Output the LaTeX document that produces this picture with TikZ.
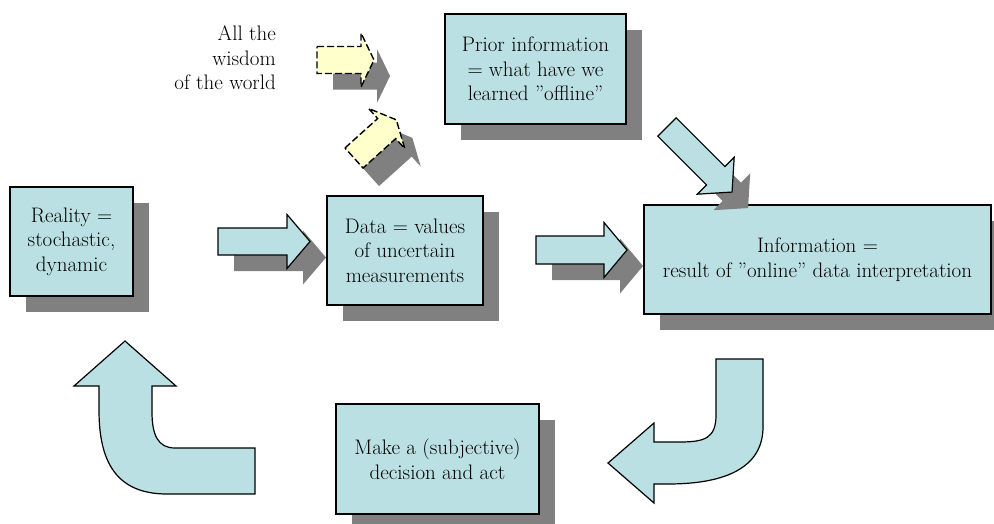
\documentclass[tikz,border=0pt]{standalone}
\usepackage{fontspec}
\usetikzlibrary{shadows}
\definecolor{boxblue}{RGB}{187,224,227}
\definecolor{argyellow}{RGB}{255,255,204}
\definecolor{shadowgray}{RGB}{128,128,128}
\tikzset{
  pics/blockarrow/.style n args={4}{code={
    \path[pic actions] (0,{-#2/2}) -- ({#1-#4},{-#2/2}) -- ({#1-#4},{-#3/2}) -- (#1,0)
      -- ({#1-#4},{#3/2}) -- ({#1-#4},{#2/2}) -- (0,{#2/2}) -- cycle;
  }},
  txt/.style={font=\rmfamily\fontsize{21}{24.5}\selectfont},
  box/.style={txt, draw=black, line width=1.3pt, fill=boxblue, align=center, inner sep=0pt,
    drop shadow={shadow xshift=16pt, shadow yshift=-16pt, fill=shadowgray, opacity=1}},
  bluearrow/.style={draw=black, fill=boxblue, line width=1.2pt, line join=miter},
  yelarrow/.style={draw=black, fill=argyellow, line width=1.4pt, dash pattern=on 7pt off 3pt},
  arrowshadow/.style={fill=shadowgray, draw=none},
}
\begin{document}
\begin{tikzpicture}[x=1pt,y=-1pt]
\useasboundingbox (0,0) rectangle (994,523);

% boxes
\node[box, minimum width=123pt, minimum height=109pt] (reality) at (71.5,241.5) {Reality =\\stochastic,\\dynamic};
\node[box, minimum width=156pt, minimum height=109pt] (data) at (405,250.5) {Data = values\\of uncertain\\measurements};
\node[box, minimum width=181pt, minimum height=110pt] (prior) at (535.5,69) {Prior information\\= what have we\\learned ”offline”};
\node[box, minimum width=347pt, minimum height=109pt] (info) at (817.5,259.5) {Information =\\result of ”online” data interpretation};
\node[box, minimum width=203pt, minimum height=110pt] (decide) at (437.5,459) {Make a (subjective)\\decision and act};

% free text
\node[txt, align=right, inner sep=0pt, anchor=east] (wisdom) at (276,58) {All the\\wisdom\\of the world};

% yellow arrows
\pic[arrowshadow] at (333,76) {blockarrow={57}{27}{54}{13}};
\pic[yelarrow] at (317,60) {blockarrow={57}{27}{54}{13}};
\pic[arrowshadow, rotate=42] at (370,176) {blockarrow={57}{27}{54}{13}};
\pic[yelarrow, rotate=42] at (354,158) {blockarrow={57}{27}{54}{13}};

% straight blue arrows
\pic[arrowshadow] at (234,257.5) {blockarrow={92}{27}{54}{23}};
\pic[bluearrow] at (218,241.5) {blockarrow={92}{27}{54}{23}};
\pic[arrowshadow] at (552,266) {blockarrow={91}{28}{55}{23}};
\pic[bluearrow] at (536,250) {blockarrow={91}{28}{55}{23}};
\pic[arrowshadow, rotate=-45] at (683,143) {blockarrow={92}{26}{52}{23}};
\pic[bluearrow, rotate=-45] at (667,127) {blockarrow={92}{26}{52}{23}};

% curved arrow: info -> decision
\draw[bluearrow] (716,359) -- (763,359) -- (763,427)
  .. controls (763,465) and (730,484) .. (668,484) -- (654,484) -- (654,503)
  -- (608,463) -- (654,423) -- (654,442) -- (680,442)
  .. controls (705,442) and (716,438) .. (716,415) -- cycle;

% curved arrow: decision -> reality
\draw[bluearrow] (255,448) -- (255,494) -- (167,494)
  .. controls (115,494) and (99,460) .. (99,410) -- (99,386) -- (74,386)
  -- (125,341) -- (176,386) -- (152,386) -- (152,412)
  .. controls (152,435) and (158,448) .. (175,448) -- cycle;
\end{tikzpicture}
\end{document}
